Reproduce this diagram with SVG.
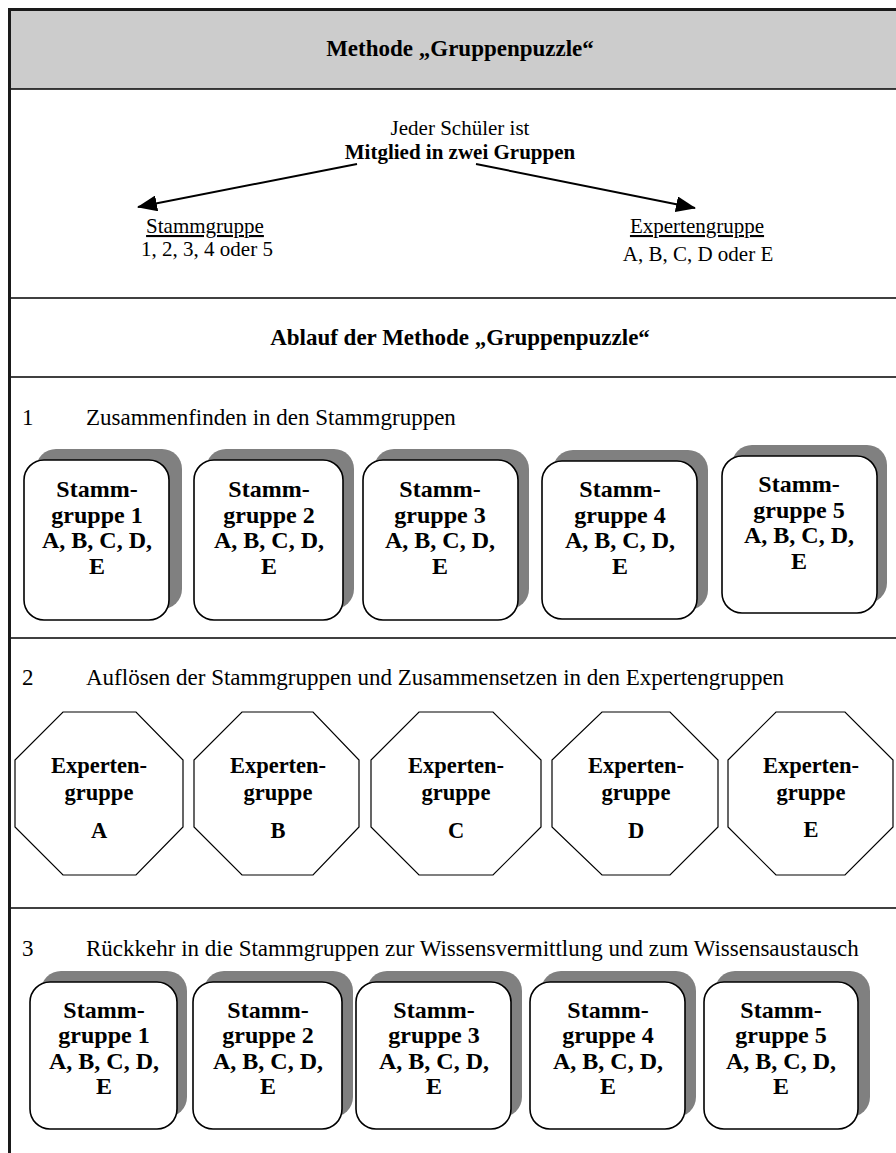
<svg xmlns="http://www.w3.org/2000/svg" width="896" height="1153" viewBox="0 0 896 1153">
  <style>
    text { font-family: "Liberation Serif", "Times New Roman", serif; fill: #000; }
    .t { font-size: 21px; }
    .s { font-size: 23px; }
    .b { font-size: 21px; font-weight: bold; }
    .h { font-size: 23px; font-weight: bold; }
    .bx { font-size: 24px; font-weight: bold; text-anchor: middle; }
    .ox { font-size: 22.5px; font-weight: bold; text-anchor: middle; }
    .c { text-anchor: middle; }
    .rule { stroke: #000; stroke-width: 1.5; fill: none; }
    .card { fill: #fff; stroke: #000; stroke-width: 1.6; }
    .shadow { fill: #808080; }
    .oct { fill: #fff; stroke: #000; stroke-width: 1.2; }
  </style>
  <defs>
    <marker id="arrowhead" viewBox="0 0 20 16" refX="19" refY="8" markerWidth="20" markerHeight="16" markerUnits="userSpaceOnUse" orient="auto">
      <path d="M0,0 L20,8 L0,16 z" fill="#000"/>
    </marker>
  </defs>

  <rect width="896" height="1153" fill="#fff"/>

  <!-- table frame -->
  <g id="frame">
    <rect x="11" y="11" width="885" height="78" fill="#cccccc"/>
    <line x1="8" y1="9.5" x2="896" y2="9.5" stroke="#1a1a1a" stroke-width="3"/>
    <line x1="9.5" y1="8" x2="9.5" y2="1153" stroke="#1a1a1a" stroke-width="3"/>
    <line class="rule" x1="11" y1="89" x2="896" y2="89"/>
    <line class="rule" x1="11" y1="298" x2="896" y2="298"/>
    <line class="rule" x1="11" y1="377" x2="896" y2="377"/>
    <line class="rule" x1="11" y1="638" x2="896" y2="638"/>
    <line class="rule" x1="11" y1="908" x2="896" y2="908"/>
  </g>

  <!-- headings -->
  <g id="title">
    <text class="h c" x="460" y="56">Methode „Gruppenpuzzle“</text>
  </g>
  <g id="member">
    <text class="t c" x="460" y="135">Jeder Schüler ist</text>
    <text class="b c" x="460" y="159">Mitglied in zwei Gruppen</text>
  </g>
  <g id="stammgruppe">
    <text class="t c" x="205" y="233" text-decoration="underline">Stammgruppe</text>
    <text class="t c" x="207" y="256">1, 2, 3, 4 oder 5</text>
  </g>
  <g id="expertengruppe">
    <text class="t c" x="697" y="233" text-decoration="underline">Expertengruppe</text>
    <text class="t c" x="698" y="261">A, B, C, D oder E</text>
  </g>

  <!-- connectors -->
  <g id="connectors" stroke="#000" stroke-width="2" fill="none">
    <line x1="357" y1="164" x2="138" y2="207" marker-end="url(#arrowhead)"/>
    <line x1="476" y1="164" x2="695" y2="208" marker-end="url(#arrowhead)"/>
  </g>

  <g id="ablauf">
    <text class="h c" x="460" y="345">Ablauf der Methode „Gruppenpuzzle“</text>
  </g>

  <!-- step 1 -->
  <g id="step1">
    <text class="s" x="22" y="425">1</text>
    <text class="s" x="86" y="425">Zusammenfinden in den Stammgruppen</text>
  </g>
  <g id="s1-1">
    <rect class="shadow" x="36" y="449" width="146" height="160" rx="20"/>
    <rect class="card" x="24" y="460" width="145" height="160" rx="20"/>
    <text class="bx" x="97" y="497">Stamm-</text>
    <text class="bx" x="97" y="522.5">gruppe 1</text>
    <text class="bx" x="97" y="548">A, B, C, D,</text>
    <text class="bx" x="97" y="573.5">E</text>
  </g>
  <g id="s1-2">
    <rect class="shadow" x="206" y="449" width="148" height="160" rx="20"/>
    <rect class="card" x="194" y="460" width="149" height="160" rx="20"/>
    <text class="bx" x="269" y="497">Stamm-</text>
    <text class="bx" x="269" y="522.5">gruppe 2</text>
    <text class="bx" x="269" y="548">A, B, C, D,</text>
    <text class="bx" x="269" y="573.5">E</text>
  </g>
  <g id="s1-3">
    <rect class="shadow" x="374" y="449" width="155" height="160" rx="20"/>
    <rect class="card" x="363" y="460" width="155" height="160" rx="20"/>
    <text class="bx" x="440" y="497">Stamm-</text>
    <text class="bx" x="440" y="522.5">gruppe 3</text>
    <text class="bx" x="440" y="548">A, B, C, D,</text>
    <text class="bx" x="440" y="573.5">E</text>
  </g>
  <g id="s1-4">
    <rect class="shadow" x="553" y="450" width="155" height="160" rx="20"/>
    <rect class="card" x="542" y="461" width="155" height="158" rx="20"/>
    <text class="bx" x="620" y="497">Stamm-</text>
    <text class="bx" x="620" y="522.5">gruppe 4</text>
    <text class="bx" x="620" y="548">A, B, C, D,</text>
    <text class="bx" x="620" y="573.5">E</text>
  </g>
  <g id="s1-5">
    <rect class="shadow" x="732" y="445" width="155" height="158" rx="20"/>
    <rect class="card" x="722" y="456" width="155" height="157" rx="20"/>
    <text class="bx" x="799" y="492">Stamm-</text>
    <text class="bx" x="799" y="517.5">gruppe 5</text>
    <text class="bx" x="799" y="543">A, B, C, D,</text>
    <text class="bx" x="799" y="568.5">E</text>
  </g>

  <!-- step 2 -->
  <g id="step2">
    <text class="s" x="22" y="685">2</text>
    <text class="s" x="86" y="685">Auflösen der Stammgruppen und Zusammensetzen in den Expertengruppen</text>
  </g>
  <g id="e-a">
    <polygon class="oct" points="63,712 136,712 183,760 183,827 136,875 63,875 15,827 15,760"/>
    <text class="ox" x="99" y="773">Experten-</text>
    <text class="ox" x="99" y="800">gruppe</text>
    <text class="ox" x="99" y="838">A</text>
  </g>
  <g id="e-b">
    <polygon class="oct" points="242,712 313,712 359,760 359,827 313,875 242,875 194,827 194,760"/>
    <text class="ox" x="278" y="773">Experten-</text>
    <text class="ox" x="278" y="800">gruppe</text>
    <text class="ox" x="278" y="838">B</text>
  </g>
  <g id="e-c">
    <polygon class="oct" points="419,712 493,712 541,760 541,827 493,875 419,875 371,827 371,760"/>
    <text class="ox" x="456" y="773">Experten-</text>
    <text class="ox" x="456" y="800">gruppe</text>
    <text class="ox" x="456" y="838">C</text>
  </g>
  <g id="e-d">
    <polygon class="oct" points="602,712 670,712 718,760 718,827 670,875 602,875 552,827 552,760"/>
    <text class="ox" x="636" y="773">Experten-</text>
    <text class="ox" x="636" y="800">gruppe</text>
    <text class="ox" x="636" y="838">D</text>
  </g>
  <g id="e-e">
    <polygon class="oct" points="776,712 845,712 893,760 893,827 845,875 776,875 728,827 728,760"/>
    <text class="ox" x="811" y="773">Experten-</text>
    <text class="ox" x="811" y="800">gruppe</text>
    <text class="ox" x="811" y="837">E</text>
  </g>

  <!-- step 3 -->
  <g id="step3">
    <text class="s" x="22" y="956">3</text>
    <text class="s" x="86" y="956">Rückkehr in die Stammgruppen zur Wissensvermittlung und zum Wissensaustausch</text>
  </g>
  <g id="s3-1">
    <rect class="shadow" x="41" y="971" width="146" height="146" rx="20"/>
    <rect class="card" x="30" y="982" width="147" height="147" rx="20"/>
    <text class="bx" x="104" y="1018">Stamm-</text>
    <text class="bx" x="104" y="1043">gruppe 1</text>
    <text class="bx" x="104" y="1068.5">A, B, C, D,</text>
    <text class="bx" x="104" y="1094">E</text>
  </g>
  <g id="s3-2">
    <rect class="shadow" x="204" y="971" width="149" height="146" rx="20"/>
    <rect class="card" x="193" y="982" width="149" height="147" rx="20"/>
    <text class="bx" x="268" y="1018">Stamm-</text>
    <text class="bx" x="268" y="1043">gruppe 2</text>
    <text class="bx" x="268" y="1068.5">A, B, C, D,</text>
    <text class="bx" x="268" y="1094">E</text>
  </g>
  <g id="s3-3">
    <rect class="shadow" x="367" y="971" width="155" height="146" rx="20"/>
    <rect class="card" x="356" y="982" width="155" height="147" rx="20"/>
    <text class="bx" x="434" y="1018">Stamm-</text>
    <text class="bx" x="434" y="1043">gruppe 3</text>
    <text class="bx" x="434" y="1068.5">A, B, C, D,</text>
    <text class="bx" x="434" y="1094">E</text>
  </g>
  <g id="s3-4">
    <rect class="shadow" x="541" y="971" width="155" height="146" rx="20"/>
    <rect class="card" x="530" y="982" width="155" height="147" rx="20"/>
    <text class="bx" x="608" y="1018">Stamm-</text>
    <text class="bx" x="608" y="1043">gruppe 4</text>
    <text class="bx" x="608" y="1068.5">A, B, C, D,</text>
    <text class="bx" x="608" y="1094">E</text>
  </g>
  <g id="s3-5">
    <rect class="shadow" x="715" y="971" width="155" height="146" rx="20"/>
    <rect class="card" x="704" y="982" width="154" height="147" rx="20"/>
    <text class="bx" x="781" y="1018">Stamm-</text>
    <text class="bx" x="781" y="1043">gruppe 5</text>
    <text class="bx" x="781" y="1068.5">A, B, C, D,</text>
    <text class="bx" x="781" y="1094">E</text>
  </g>
</svg>
